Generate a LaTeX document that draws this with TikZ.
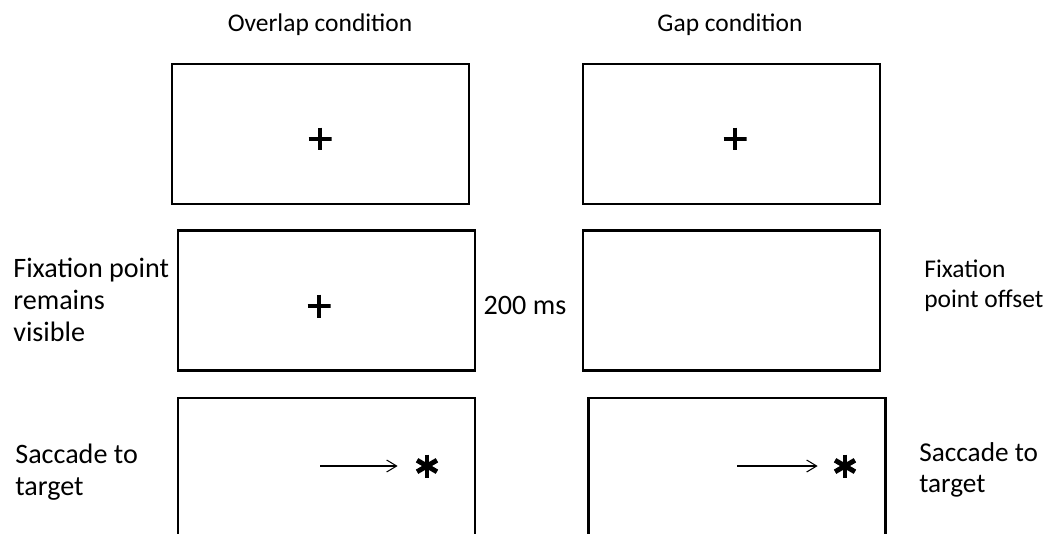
\documentclass[tikz,border=0pt]{standalone}
\usepackage{fontspec}
\setmainfont{Carlito}
\usetikzlibrary{calc,arrows.meta}

\tikzset{
  screen/.style={draw, line width=1.6pt, minimum width=5.94cm, minimum height=2.8cm, inner sep=0pt},
  fixcross/.style={minimum size=0.46cm, inner sep=0pt, path picture={
    \draw[line width=2.7pt] (path picture bounding box.west) -- (path picture bounding box.east);
    \draw[line width=2.7pt] (path picture bounding box.north) -- (path picture bounding box.south);}},
  target/.style={minimum size=0.46cm, inner sep=0pt, path picture={
    \foreach \a in {90,30,-30}
      \draw[line width=2.8pt] ($(path picture bounding box.center)+(\a:0.23cm)$) -- ($(path picture bounding box.center)-(\a:0.23cm)$);}},
  side/.style={align=left, anchor=west, inner sep=0pt},
  big/.style={font=\fontsize{16}{18.2}\selectfont},
  saccade/.style={-{Straight Barb[length=2mm,width=2.4mm]}, line width=0.6pt},
}

\begin{document}
\begin{tikzpicture}[x=0.02cm,y=-0.02cm,font=\fontsize{14.5}{17}\selectfont]
\useasboundingbox (0,0) rectangle (1059,534);
% overlap column
\node (ovtit) at (320,25) {Overlap condition};
\node[screen] (ov1) at (320.5,134) {};
\node[screen] (ov2) at (326.5,300.5) {};
\node[screen] (ov3) at (326.5,468) {};
\node[fixcross] (fx1) at (320,139) {};
\node[fixcross] (fx2) at (319,306) {};
% gap column
\node (gptit) at (730,25) {Gap condition};
\node[screen] (gp1) at (731.5,134) {};
\node[screen] (gp2) at (731.5,300.5) {};
\node[screen] (gp3) at (737,468) {};
\node[fixcross] (fx3) at (735,139) {};
% labels beside the screens
\node[side,big] (fixl) at (13,300) {Fixation point\\remains\\visible};
\node[big] (delay) at (525,305) {200 ms};
\node[side] (fixr) at (924,286) {Fixation\\point offset};
\node[side,big] (sacl) at (15,472) {Saccade to\\target};
\node[side,font=\fontsize{15.5}{18}\selectfont] (sacr) at (919,470) {Saccade to\\target};
% saccades to the target
\coordinate (s1) at (320,466);
\node[target] (t1) at (427,466) {};
\draw[saccade,shorten >=0.35cm] (s1) -- (t1);
\coordinate (s2) at (737,466);
\node[target] (t2) at (845,466) {};
\draw[saccade,shorten >=0.31cm] (s2) -- (t2);
\end{tikzpicture}
\end{document}
